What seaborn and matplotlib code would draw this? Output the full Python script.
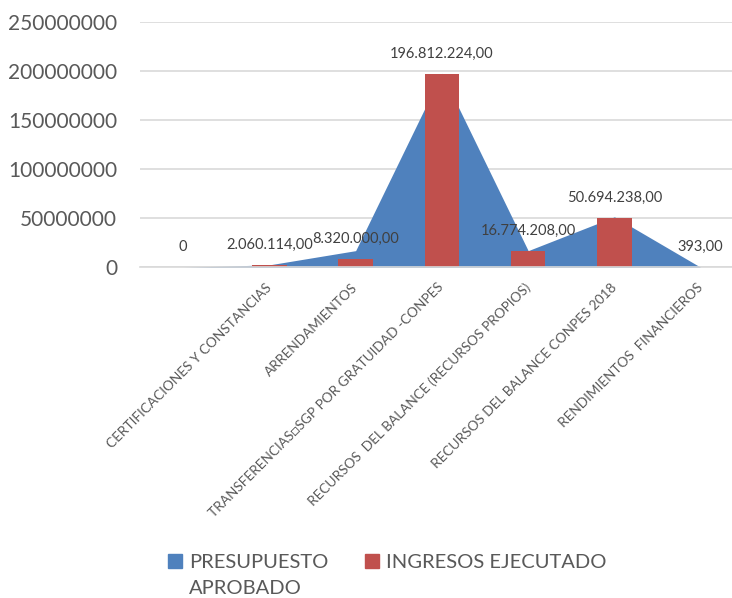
import numpy as np
import pandas as pd
import seaborn as sns
import matplotlib.pyplot as plt
from matplotlib.patches import Patch

# datos
categorias = ["", "CERTIFICACIONES Y CONSTANCIAS", "ARRENDAMIENTOS",
              "TRANSFERENCIAS\u25a1SGP POR GRATUIDAD -CONPES",
              "RECURSOS  DEL BALANCE (RECURSOS PROPIOS)",
              "RECURSOS DEL BALANCE CONPES 2018",
              "RENDIMIENTOS  FINANCIEROS"]
presupuesto = [0, 2500000, 17000000, 198000000, 17000000, 51500000, 393]
ingresos = [0, 2060114, 8320000, 196812224, 16774208, 50694238, 393]
yticks = [0, 50000000, 100000000, 150000000, 200000000, 250000000]

AZUL = "#4F81BD"
ROJO = "#C0504D"
GRIS = "#595959"

sns.set_style("white")
plt.rcParams['font.family'] = ['Lato', 'DejaVu Sans']

df = pd.DataFrame({"cat": categorias, "ingresos": ingresos})

fig = plt.figure(figsize=(7.32, 5.98), dpi=100)
W, H = 732, 598
ax = fig.add_axes([140 / W, (H - 267.3) / H, (W - 140) / W, 245 / H])
ax.set_axisbelow(True)

x = np.arange(len(categorias))
ax.fill_between(x, presupuesto, color=AZUL, lw=0, zorder=1)
sns.barplot(data=df, x="cat", y="ingresos", order=categorias, color=ROJO,
            saturation=1, width=0.4, linewidth=0, ax=ax, zorder=2)


def fmt(v):
    if v == 0:
        return "0"
    s = f"{v:,.2f}"
    return s.replace(",", "X").replace(".", ",").replace("X", ".")


for i, v in enumerate(ingresos):
    ax.annotate(fmt(v), (i, v), xytext=(0, 14.5), textcoords="offset points",
                ha="center", va="center", fontsize=10.5, color="#404040")

ax.set_ylim(0, 250000000)
ax.set_xlim(-0.5, (W - 183.5) / 86.2)
ax.set_yticks(yticks)
ax.set_yticklabels([str(t) for t in yticks])
ax.yaxis.grid(True, color="#D9D9D9", lw=1.2)
ax.tick_params(axis="y", length=0, pad=16.5, labelsize=15, labelcolor=GRIS)
ax.tick_params(axis="x", length=0, pad=13, labelsize=9.8, labelcolor=GRIS)
for lbl in ax.get_xticklabels():
    lbl.set_rotation(45)
    lbl.set_ha("right")
    lbl.set_va("center")
    lbl.set_rotation_mode("anchor")
ax.set_xlabel("")
ax.set_ylabel("")
for s in ["top", "left", "right"]:
    ax.spines[s].set_visible(False)
ax.spines["bottom"].set_color("#D9D9D9")
ax.spines["bottom"].set_linewidth(1.2)

handles = [Patch(color=AZUL), Patch(color=ROJO)]
fig.legend(handles, ["PRESUPUESTO", "INGRESOS EJECUTADO"], ncol=2,
           loc="upper left", bbox_to_anchor=(168 / W, 1 - 554 / H),
           frameon=False, fontsize=14.5, labelcolor=GRIS,
           handlelength=0.68, handleheight=0.68, handletextpad=0.35,
           columnspacing=1.85, borderpad=0, borderaxespad=0)
fig.text(189 / W, (H - 588) / H, "APROBADO", fontsize=14.5, color=GRIS,
         ha="left", va="center")

fig.savefig("out.png", dpi=100)
